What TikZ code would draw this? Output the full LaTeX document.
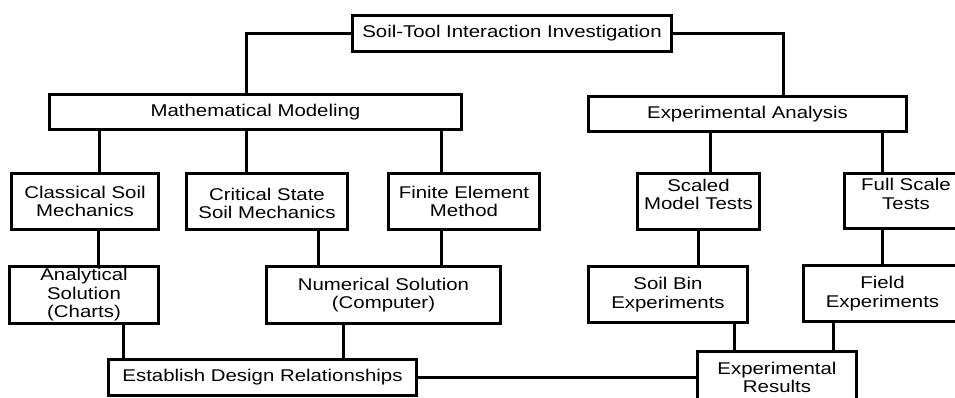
\documentclass[tikz,border=0pt]{standalone}
\usepackage{fontspec}
\setmainfont{Liberation Sans}[FakeStretch=1.2]
\begin{document}
\begin{tikzpicture}[x=1pt,y=-1pt,
  box/.style={draw=black,line width=3pt,inner sep=0pt,anchor=north west,fill=white},
  txt/.style={align=center,inner sep=0pt,font=\fontsize{17}{18.5}\selectfont},
  conn/.style={draw=black,line width=3pt}]
\useasboundingbox (0,0) rectangle (955,397);
% boxes
\node[box,minimum width=319pt,minimum height=36pt] (top) at (351,14) {};
\node[box,minimum width=412pt,minimum height=35pt] (math) at (48,93) {};
\node[box,minimum width=318pt,minimum height=35pt] (exp) at (587,95) {};
\node[box,minimum width=147pt,minimum height=56pt] (classical) at (10,172) {};
\node[box,minimum width=161pt,minimum height=56pt] (critical) at (185,172) {};
\node[box,minimum width=151pt,minimum height=56pt] (finite) at (387,172) {};
\node[box,minimum width=122pt,minimum height=56pt] (scaled) at (636,172) {};
\node[box,minimum width=123pt,minimum height=55pt] (full) at (843,172) {};
\node[box,minimum width=149pt,minimum height=57pt] (analytical) at (8,265) {};
\node[box,minimum width=234pt,minimum height=57pt] (numerical) at (265,265) {};
\node[box,minimum width=159pt,minimum height=56pt] (soilbin) at (587,265) {};
\node[box,minimum width=158pt,minimum height=56pt] (field) at (802,264) {};
\node[box,minimum width=308pt,minimum height=36pt] (establish) at (107,358) {};
\node[box,minimum width=159pt,minimum height=55pt] (results) at (696,350) {};
% texts
\node[txt] (ttop) at (top.center) {Soil-Tool Interaction Investigation};
\node[txt] (tmath) at (math.center) {Mathematical Modeling};
\node[txt] (texp) at (exp.center) {Experimental Analysis};
\node[txt] (tclassical) at (classical.center) {Classical Soil\\Mechanics};
\node[txt] (tcritical) at ([yshift=-2pt]critical.center) {Critical State\\Soil Mechanics};
\node[txt] (tfinite) at (finite.center) {Finite Element\\Method};
\node[txt] (tscaled) at ([yshift=7pt]scaled.center) {Scaled\\Model Tests};
\node[txt] (tfull) at ([yshift=7pt]full.center) {Full Scale\\Tests};
\node[txt] (tanalytical) at (analytical.center) {Analytical\\Solution\\(Charts)};
\node[txt] (tnumerical) at (numerical.center) {Numerical Solution\\(Computer)};
\node[txt] (tsoilbin) at (soilbin.center) {Soil Bin\\Experiments};
\node[txt] (tfield) at (field.center) {Field\\Experiments};
\node[txt] (testablish) at (establish.center) {Establish Design Relationships};
\node[txt] (tresults) at ([yshift=1.5pt]results.center) {Experimental\\Results};
% connectors
\draw[conn] (top.west) -| ([xshift=-9pt]math.north);
\draw[conn] (top.east) -| ([xshift=36pt]exp.north);
\draw[conn] ([xshift=14.5pt]classical.north) -- ([xshift=14.5pt]classical.north |- math.south);
\draw[conn] ([xshift=-20.5pt]critical.north) -- ([xshift=-20.5pt]critical.north |- math.south);
\draw[conn] ([xshift=-22.5pt]finite.north) -- ([xshift=-22.5pt]finite.north |- math.south);
\draw[conn] ([xshift=12pt]scaled.north) -- ([xshift=12pt]scaled.north |- exp.south);
\draw[conn] ([xshift=-23.5pt]full.north) -- ([xshift=-23.5pt]full.north |- exp.south);
\draw[conn] ([xshift=14.5pt]analytical.north) -- ([xshift=14.5pt]analytical.north |- classical.south);
\draw[conn] ([xshift=-65pt]numerical.north) -- ([xshift=-65pt]numerical.north |- critical.south);
\draw[conn] ([xshift=58pt]numerical.north) -- ([xshift=58pt]numerical.north |- finite.south);
\draw[conn] ([xshift=30.5pt]soilbin.north) -- ([xshift=30.5pt]soilbin.north |- scaled.south);
\draw[conn] (field.north) -- (field.north |- full.south);
\draw[conn] ([xshift=-139pt]establish.north) -- ([xshift=-139pt]establish.north |- analytical.south);
\draw[conn] ([xshift=81pt]establish.north) -- ([xshift=81pt]establish.north |- numerical.south);
\draw[conn] ([xshift=-42.5pt]results.north) -- ([xshift=-42.5pt]results.north |- soilbin.south);
\draw[conn] ([xshift=56.5pt]results.north) -- ([xshift=56.5pt]results.north |- field.south);
\draw[conn] (establish.east) -- (establish.east -| results.west);
\end{tikzpicture}
\end{document}
